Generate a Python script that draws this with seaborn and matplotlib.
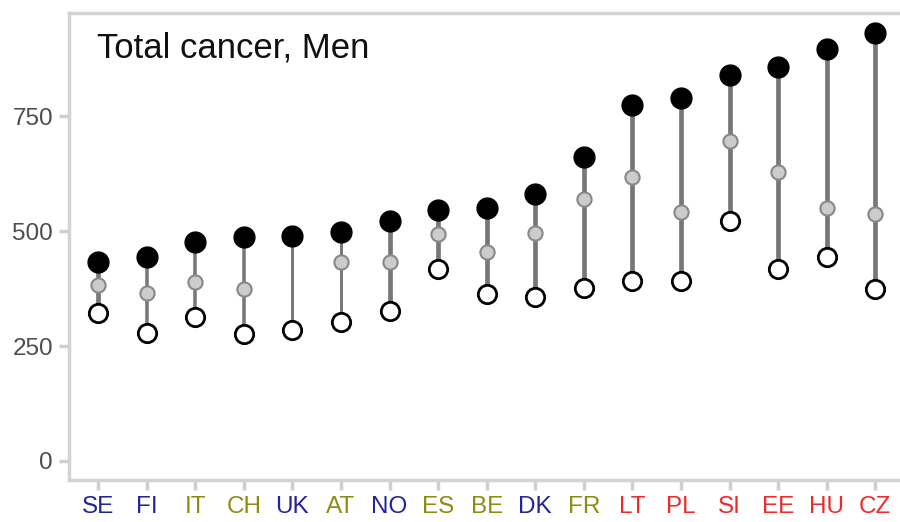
import numpy as np
import pandas as pd
import matplotlib
matplotlib.use("Agg")
import matplotlib.pyplot as plt
import seaborn as sns

countries = ["SE", "FI", "IT", "CH", "UK", "AT", "NO", "ES", "BE", "DK",
             "FR", "LT", "PL", "SI", "EE", "HU", "CZ"]
high_vals = [432, 444, 476, 487, 490, 498, 522, 546, 550, 580,
             661, 774, 789, 840, 856, 895, 930]
mid_vals = [382, 365, 389, 373, np.nan, 433, 433, 493, 454, 496,
            570, 618, 541, 695, 628, 550, 537]
low_vals = [322, 279, 313, 277, 285, 302, 327, 417, 364, 357,
            377, 392, 391, 522, 417, 443, 373]
groups = ["north", "north", "west", "west", "north", "west", "north", "west", "west", "north",
          "west", "east", "east", "east", "east", "east", "east"]
line_widths = [4.0, 3.0, 3.0, 3.0, 2.5, 2.5, 4.0, 4.0, 4.0, 4.0,
               4.0, 4.0, 4.0, 4.0, 4.0, 4.0, 4.0]
yticks = [0, 250, 500, 750]
title = "Total cancer, Men"

group_colors = {"north": "#23239a", "west": "#8c8c10", "east": "#ee2a2a"}

df = pd.DataFrame({"country": countries, "high": high_vals, "mid": mid_vals,
                   "low": low_vals, "group": groups})
df["x"] = np.arange(len(df))

sns.set_style("white")
plt.rcParams["font.family"] = ["Liberation Sans", "DejaVu Sans"]

fig = plt.figure(figsize=(9, 5.22), dpi=100)
ax = fig.add_axes([0.0767, 0.0805, 0.9233, 0.8945])

ax.vlines(df["x"], df["low"], df["high"], colors="#777777",
          linewidths=[w * 0.85 for w in line_widths], zorder=1)

sns.scatterplot(data=df, x="x", y="low", ax=ax, s=175, color="white",
                edgecolor="black", linewidth=2.0, zorder=3, legend=False)
sns.scatterplot(data=df.dropna(subset=["mid"]), x="x", y="mid", ax=ax, s=105,
                color="#cccccc", edgecolor="#888888", linewidth=1.5, zorder=4, legend=False)
sns.scatterplot(data=df, x="x", y="high", ax=ax, s=225, color="black",
                edgecolor="black", linewidth=1, zorder=5, legend=False)

ax.set_xlim(-0.6, 16.51)
ax.set_ylim(-41.3, 974)
ax.set_xticks(df["x"])
ax.set_xticklabels(countries)
for lbl, g in zip(ax.get_xticklabels(), groups):
    lbl.set_color(group_colors[g])
ax.set_yticks(yticks)
ax.set_yticklabels([str(v) for v in yticks])
ax.set_xlabel("")
ax.set_ylabel("")

ax.tick_params(axis="both", which="both", length=7.5, width=2.5, color="#cfcfcf",
               labelsize=17.5, pad=4)
ax.tick_params(axis="y", labelcolor="#4d4d4d")
ax.tick_params(bottom=True, left=True)

for side in ["left", "bottom", "top"]:
    ax.spines[side].set_visible(True)
    ax.spines[side].set_color("#d3d3d3")
    ax.spines[side].set_linewidth(2.5)
ax.spines["right"].set_visible(False)

ax.text(0.034, 0.96, title, transform=ax.transAxes, fontsize=25,
        ha="left", va="top", color="#111111")

fig.savefig("out.png", dpi=100)
